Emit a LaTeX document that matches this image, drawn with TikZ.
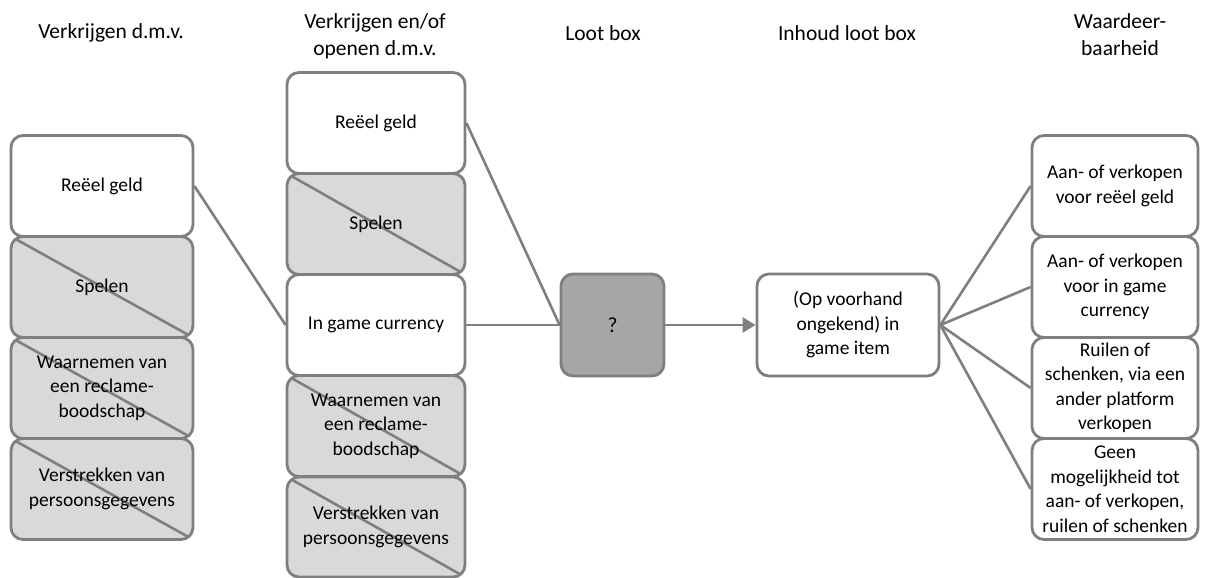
\documentclass[tikz,border=0pt]{standalone}
\usepackage{fontspec}
\setmainfont{Carlito}
\usepackage{tikz}
\usetikzlibrary{arrows.meta}

\definecolor{lijn}{RGB}{127,127,127}
\definecolor{grijs}{RGB}{217,217,217}
\definecolor{donker}{RGB}{166,166,166}

\begin{document}
\begin{tikzpicture}[x=1pt,y=-1pt,
		vak/.style={draw=lijn,line width=2.8pt,rounded corners=12pt,fill=white,
			align=center,inner sep=2pt,font=\fontsize{19.5}{24.5}\selectfont},
		weg/.style={vak,fill=grijs,path picture={\draw[lijn,line width=2.6pt]
			(path picture bounding box.north west) -- (path picture bounding box.south east);}},
		kop/.style={align=center,font=\fontsize{21.5}{27}\selectfont},
		verbinding/.style={draw=lijn,line width=2.6pt}]
		\useasboundingbox (0,0) rectangle (1208,578);
%		\draw[help lines,step=50] (0,0) grid (1208,578);
		% kolommen
		\path (102,186) coordinate (a1);
		\path (102,287) coordinate (a2);
		\path (102,388) coordinate (a3);
		\path (102,489) coordinate (a4);
		\path (376,123) coordinate (b1);
		\path (376,224) coordinate (b2);
		\path (376,325) coordinate (b3);
		\path (376,426) coordinate (b4);
		\path (376,527) coordinate (b5);
		\path (612.5,325) coordinate (box);
		\path (848,325) coordinate (inhoud);
		\path (1115,186) coordinate (w1);
		\path (1115,287) coordinate (w2);
		\path (1115,388) coordinate (w3);
		\path (1115,489) coordinate (w4);

		% koppen
		\node[kop] (kop1) at (111,33) {Verkrijgen d.m.v.};
		\node[kop] (kop2) at (375,36) {Verkrijgen en/of\\openen d.m.v.};
		\node[kop] (kop3) at (603,33) {Loot box};
		\node[kop] (kop4) at (847,33) {Inhoud loot box};
		\node[kop] (kop5) at (1120,35) {Waardeer-\\baarheid};

		% verkrijgen
		\node[vak,minimum width=182,minimum height=101] (geldA) at (a1) {Reëel geld};
		\node[weg,minimum width=182,minimum height=101] (spelenA) at (a2) {Spelen};
		\node[weg,minimum width=182,minimum height=101] (reclameA) at (a3) {Waarnemen van\\een reclame-\\boodschap};
		\node[weg,minimum width=182,minimum height=101] (gegevensA) at (a4) {Verstrekken van\\persoonsgegevens};

		% verkrijgen en/of openen
		\node[vak,minimum width=178,minimum height=101] (geldB) at (b1) {Reëel geld};
		\node[weg,minimum width=178,minimum height=101] (spelenB) at (b2) {Spelen};
		\node[vak,minimum width=178,minimum height=101] (currencyB) at (b3) {In game currency};
		\node[weg,minimum width=178,minimum height=101] (reclameB) at (b4) {Waarnemen van\\een reclame-\\boodschap};
		\node[weg,minimum width=178,minimum height=100] (gegevensB) at (b5) {Verstrekken van\\persoonsgegevens};

		% loot box en inhoud
		\node[vak,fill=donker,minimum width=103,minimum height=102,font=\fontsize{21.5}{27}\selectfont] (loot) at (box) {?};
		\node[vak,minimum width=182,minimum height=102] (item) at (inhoud) {(Op voorhand\\ongekend) in\\game item};

		% waardeerbaarheid
		\node[vak,minimum width=166,minimum height=101] (verkoopGeld) at (w1) {Aan- of verkopen\\voor reëel geld};
		\node[vak,minimum width=166,minimum height=101] (verkoopGame) at (w2) {Aan- of verkopen\\voor in game\\currency};
		\node[vak,minimum width=166,minimum height=101] (ruilen) at (w3) {Ruilen of\\schenken, via een\\ander platform\\verkopen};
		\node[vak,minimum width=166,minimum height=101] (geen) at (w4) {Geen\\mogelijkheid tot\\aan- of verkopen,\\ruilen of schenken};

		% lijnen
		\draw[verbinding] (geldA.east) -- (currencyB.west);
		\draw[verbinding] (geldB.east) -- (loot.west);
		\draw[verbinding] (currencyB.east) -- (loot.west);
		\draw[verbinding,-{Triangle[length=13pt,width=15pt]}] (loot.east) -- (item.west);
		\draw[verbinding] (item.east) -- (verkoopGeld.west);
		\draw[verbinding] (item.east) -- (verkoopGame.west);
		\draw[verbinding] (item.east) -- (ruilen.west);
		\draw[verbinding] (item.east) -- (geen.west);
	\end{tikzpicture}
\end{document}
